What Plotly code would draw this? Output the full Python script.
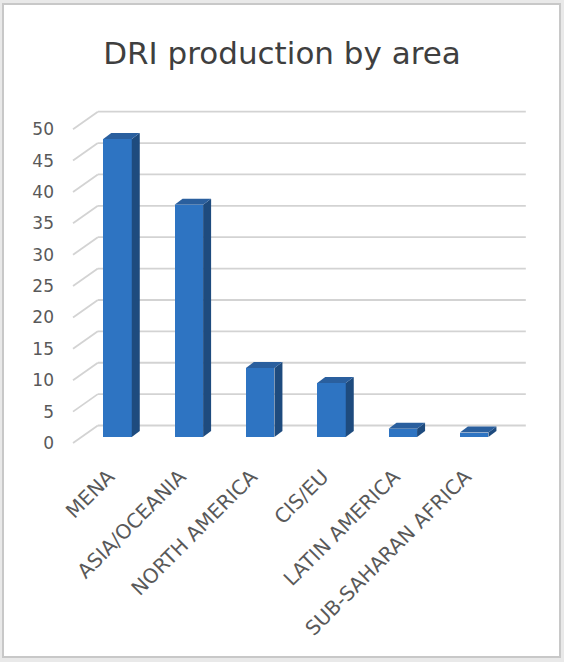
import plotly.graph_objects as go

# --- data -------------------------------------------------------------
categories = ["MENA", "ASIA/OCEANIA", "NORTH AMERICA", "CIS/EU",
              "LATIN AMERICA", "SUB-SAHARAN AFRICA"]
production = [47.5, 37.0, 11.0, 8.6, 1.3, 0.7]
y_ticks = [0, 5, 10, 15, 20, 25, 30, 35, 40, 45, 50]

# --- page geometry (pixels) --------------------------------------------
W, H = 564, 662
X_L, X_R, Y_T, Y_B = 58, 548, 95, 460          # plot area
PX_U0, PX_PER_U = 117.5, 71.33                 # x pixel of first bar centre, px per category
PY_V0, PX_PER_V = 437.0, 6.276                 # y pixel of value 0 (bar plane), px per unit

# oblique 3-D offsets, expressed in axis units
FRONT_DU, FRONT_DV = -8.8 / PX_PER_U, -6.0 / PX_PER_V   # front edge of floor / side wall
BACK_DU, BACK_DV = 16.0 / PX_PER_U, 11.5 / PX_PER_V     # back wall
DEPTH_DU, DEPTH_DV = 8.0 / PX_PER_U, 6.0 / PX_PER_V     # bar depth
BAR_W = 0.40
WALL_U0, WALL_U1 = -0.5, 5.5

x_range = [(X_L - PX_U0) / PX_PER_U, (X_R - PX_U0) / PX_PER_U]
y_range = [(PY_V0 - Y_B) / PX_PER_V, (PY_V0 - Y_T) / PX_PER_V]

FRONT_C = "#2E74C2"
SIDE_C = "#1E4B7E"
TOP_C = "#2A5F9E"
GRID_C = "#D3D3D3"
TEXT_C = "#595959"
FONT = "DejaVu Sans"

positions = list(range(len(categories)))

fig = go.Figure()

# front faces of the columns
fig.add_trace(go.Bar(
    x=positions, y=production, width=BAR_W,
    marker=dict(color=FRONT_C, line=dict(width=0)),
    hoverinfo="skip", showlegend=False,
))

# side and top faces of each column
for u, v in zip(positions, production):
    r = u + BAR_W / 2
    l = u - BAR_W / 2
    fig.add_trace(go.Scatter(
        x=[r, r + DEPTH_DU, r + DEPTH_DU, r, r],
        y=[0, DEPTH_DV, v + DEPTH_DV, v, 0],
        fill="toself", fillcolor=SIDE_C, mode="lines",
        line=dict(width=0, color=SIDE_C), hoverinfo="skip", showlegend=False,
    ))
    fig.add_trace(go.Scatter(
        x=[l, r, r + DEPTH_DU, l + DEPTH_DU, l],
        y=[v, v, v + DEPTH_DV, v + DEPTH_DV, v],
        fill="toself", fillcolor=TOP_C, mode="lines",
        line=dict(width=0, color=TOP_C), hoverinfo="skip", showlegend=False,
    ))

# invisible trace that activates the label axes
fig.add_trace(go.Scatter(x=[None], y=[None], xaxis="x2", yaxis="y2",
                         showlegend=False, hoverinfo="skip"))


def paper_x(px):
    return (px - X_L) / (X_R - X_L)


def paper_y(py):
    return (Y_B - py) / (Y_B - Y_T)


shapes = [
    # chart frame
    dict(type="rect", xref="paper", yref="paper", layer="below",
         x0=paper_x(3), x1=paper_x(560), y0=paper_y(4), y1=paper_y(657),
         fillcolor="white", line=dict(color="#C8C8C8", width=2)),
]
# back-wall gridlines and their side-wall continuation
for t in y_ticks:
    shapes.append(dict(type="line", xref="x", yref="y", layer="below",
                       x0=WALL_U0 + BACK_DU, x1=WALL_U1 + BACK_DU,
                       y0=t + BACK_DV, y1=t + BACK_DV,
                       line=dict(color=GRID_C, width=1.8)))
    shapes.append(dict(type="line", xref="x", yref="y", layer="below",
                       x0=WALL_U0 + FRONT_DU, x1=WALL_U0 + BACK_DU,
                       y0=t + FRONT_DV, y1=t + BACK_DV,
                       line=dict(color=GRID_C, width=1.8)))

fig.update_layout(
    width=W, height=H,
    margin=dict(l=X_L, r=W - X_R, t=Y_T, b=H - Y_B),
    paper_bgcolor="#E9E9E9",
    plot_bgcolor="rgba(0,0,0,0)",
    shapes=shapes,
    title=dict(text="DRI production by area", x=0.5, xref="container",
               xanchor="center", y=1 - 53 / H, yref="container", yanchor="middle",
               font=dict(family=FONT, size=31, color="#3F3F3F")),
    xaxis=dict(range=x_range, showgrid=False, zeroline=False, showline=False,
               showticklabels=False, ticks=""),
    yaxis=dict(range=y_range, showgrid=False, zeroline=False, showline=False,
               showticklabels=False, ticks=""),
    xaxis2=dict(range=[x_range[0] - FRONT_DU, x_range[1] - FRONT_DU],
                overlaying="x", anchor="y", side="bottom",
                tickmode="array", tickvals=positions, ticktext=categories,
                tickangle=-45, showgrid=False, zeroline=False, showline=False,
                ticks="", tickfont=dict(family=FONT, size=20, color=TEXT_C)),
    yaxis2=dict(range=[y_range[0] - FRONT_DV, y_range[1] - FRONT_DV],
                overlaying="y", anchor="free", position=0, side="left",
                tickmode="array", tickvals=y_ticks, ticklabelstandoff=4,
                showgrid=False, zeroline=False, showline=False,
                ticks="", tickfont=dict(family=FONT, size=17, color=TEXT_C)),
    bargap=0, showlegend=False,
)

fig.write_html("out.html")
